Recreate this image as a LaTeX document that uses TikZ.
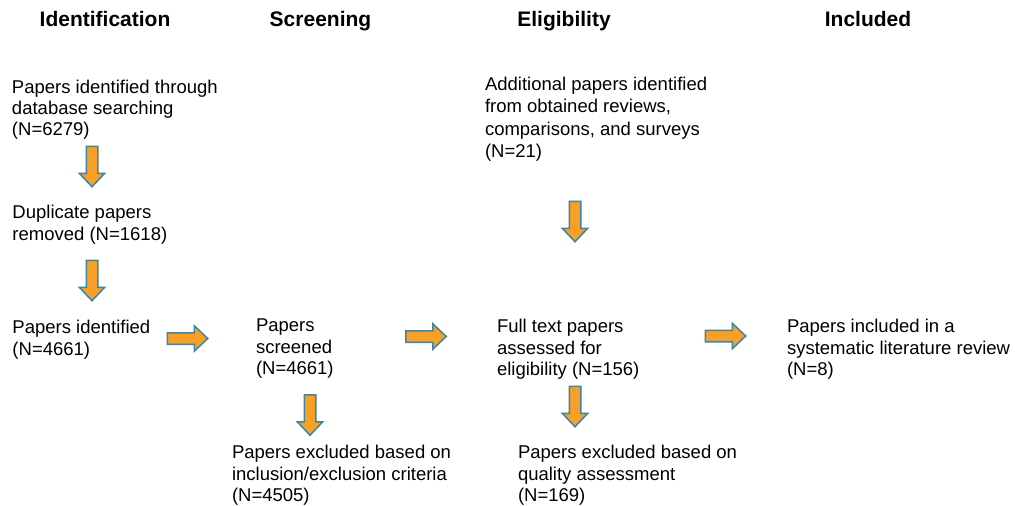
\documentclass[tikz,border=0pt]{standalone}
\usepackage{fontspec}
\setmainfont{Liberation Sans}
\definecolor{arrowfill}{RGB}{248,160,37}
\definecolor{arrowline}{RGB}{58,134,168}
\tikzset{
  txt/.style={anchor=north west, inner sep=0pt, outer sep=0pt, align=left,
    font=\fontsize{18.5}{21}\selectfont},
  wide/.style={font=\fontsize{18.5}{21.6}\selectfont},
  wider/.style={font=\fontsize{18.5}{22.3}\selectfont},
  head/.style={anchor=base, inner sep=0pt, font=\fontsize{21}{24}\selectfont\bfseries},
  arrowstyle/.style={fill=arrowfill, draw=arrowline, line width=1.5pt, line join=miter},
  blockarrow/.pic={\path[arrowstyle] (-20.25,-5.75) -- (6.75,-5.75) -- (6.75,-12.75) -- (20.25,0) -- (6.75,12.75) -- (6.75,5.75) -- (-20.25,5.75) -- cycle;}
}
\begin{document}
\begin{tikzpicture}[x=1pt,y=-1pt]
\useasboundingbox (0,0) rectangle (1015,506);
% headings
\node[head] (h1) at (105,27) {Identification};
\node[head] (h2) at (320.5,27) {Screening};
\node[head] (h3) at (564,27) {Eligibility};
\node[head] (h4) at (868,27) {Included};
% texts
\node[txt] (t1) at (12,80) {Papers identified through\\database searching\\(N=6279)};
\node[txt,wide] (t2) at (12.5,205) {Duplicate papers\\removed (N=1618)};
\node[txt,wide] (t3) at (12.5,320) {Papers identified\\(N=4661)};
\node[txt,wide] (t4) at (256,319) {Papers\\screened\\(N=4661)};
\node[txt,wide] (t5) at (232,445) {Papers excluded based on\\inclusion/exclusion criteria\\(N=4505)};
\node[txt,wider] (t6) at (485,77) {Additional papers identified\\from obtained reviews,\\comparisons, and surveys\\(N=21)};
\node[txt,wide] (t7) at (497,319) {Full text papers\\assessed for\\eligibility (N=156)};
\node[txt,wide] (t8) at (518,445) {Papers excluded based on\\quality assessment\\(N=169)};
\node[txt,wide] (t9) at (787,319) {Papers included in a\\systematic literature review\\(N=8)};
% block arrows
\pic[rotate=-90] (a1) at (92,166.5) {blockarrow};
\pic[rotate=-90] (a2) at (92,280.5) {blockarrow};
\pic (a3) at (187.5,338.5) {blockarrow};
\pic (a4) at (426,336.5) {blockarrow};
\pic[rotate=-90] (a5) at (310,415) {blockarrow};
\pic[rotate=-90] (a6) at (575,221.5) {blockarrow};
\pic[rotate=-90] (a7) at (575,406.5) {blockarrow};
\pic (a8) at (725.5,336) {blockarrow};
\end{tikzpicture}
\end{document}
